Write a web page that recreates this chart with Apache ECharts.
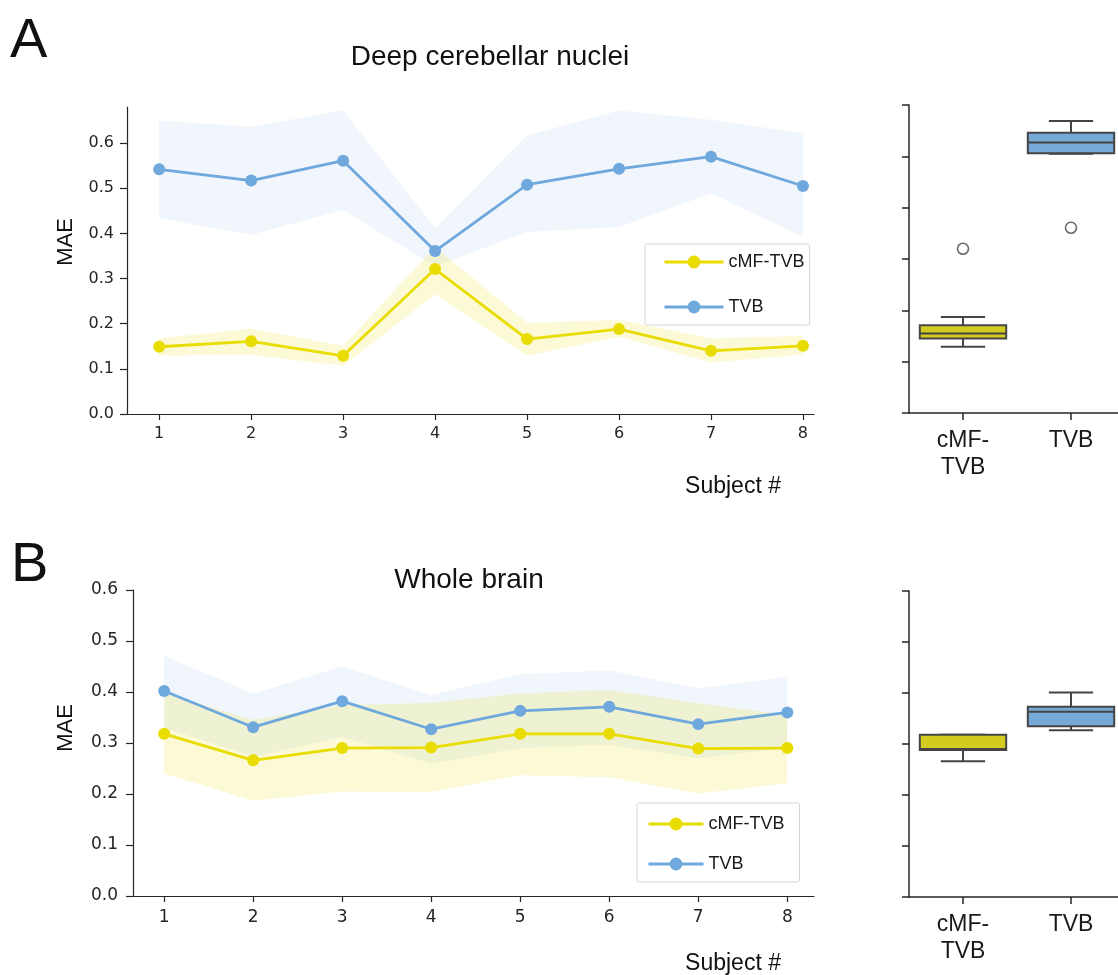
<!DOCTYPE html>
<html><head><meta charset="utf-8">
<script src="https://cdn.jsdelivr.net/npm/echarts@6/dist/echarts.min.js"></script>
<style>html,body{margin:0;padding:0;background:#fff}#c{width:1118px;height:975px}</style>
</head><body><div id="c"></div>
<script>
// ---------- data ----------
const subjects = [1, 2, 3, 4, 5, 6, 7, 8];
const yTicks = [0, 0.1, 0.2, 0.3, 0.4, 0.5, 0.6];
const seriesNames = ['cMF-TVB', 'TVB'];

// Panel A: Deep cerebellar nuclei
const dcnCmfMean  = [0.149, 0.161, 0.129, 0.321, 0.166, 0.188, 0.140, 0.151];
const dcnCmfUpper = [0.168, 0.189, 0.151, 0.370, 0.202, 0.208, 0.168, 0.173];
const dcnCmfLower = [0.129, 0.131, 0.107, 0.265, 0.129, 0.171, 0.114, 0.131];
const dcnTvbMean  = [0.542, 0.517, 0.561, 0.361, 0.508, 0.543, 0.570, 0.505];
const dcnTvbUpper = [0.650, 0.636, 0.672, 0.412, 0.617, 0.672, 0.652, 0.622];
const dcnTvbLower = [0.434, 0.397, 0.452, 0.327, 0.403, 0.414, 0.489, 0.392];

// Panel B: Whole brain
const wbCmfMean  = [0.318, 0.266, 0.290, 0.291, 0.318, 0.318, 0.289, 0.290];
const wbCmfUpper = [0.398, 0.345, 0.374, 0.379, 0.397, 0.404, 0.378, 0.355];
const wbCmfLower = [0.240, 0.187, 0.205, 0.204, 0.237, 0.233, 0.201, 0.221];
const wbTvbMean  = [0.402, 0.331, 0.382, 0.327, 0.363, 0.371, 0.337, 0.360];
const wbTvbUpper = [0.471, 0.397, 0.450, 0.394, 0.435, 0.442, 0.407, 0.430];
const wbTvbLower = [0.330, 0.273, 0.312, 0.260, 0.290, 0.296, 0.270, 0.290];

// Box plots: [lower whisker, Q1, median, Q3, upper whisker]
const boxCategories = ['cMF-\nTVB', 'TVB'];
const dcnBoxCmf = [0.129, 0.145, 0.155, 0.171, 0.187];
const dcnBoxTvb = [0.505, 0.506, 0.527, 0.546, 0.569];
const dcnOutlierCats = [0, 1];
const dcnOutlierVals = [0.320, 0.361];
const wbBoxCmf = [0.266, 0.288, 0.290, 0.318, 0.318];
const wbBoxTvb = [0.327, 0.335, 0.363, 0.373, 0.401];

// ---------- styling ----------
const YEL = '#e8dc00', BLUE = '#6fa8dc';
const YEL_BAND = 'rgba(235,221,0,0.16)', BLUE_BAND = 'rgba(111,168,220,0.10)';
const BOX_FILL = ['#d4cb21', '#76a9d5'];
const AX = '#262626';
const SANS = 'Liberation Sans, Arial, sans-serif';
const TICKF = 'DejaVu Sans, sans-serif';

const chart = echarts.init(document.getElementById('c'), null, {renderer: 'canvas'});

function bandSeries(xi, upper, lower, color) {
  return {
    type: 'custom', xAxisIndex: xi, yAxisIndex: xi, silent: true, z: 1,
    data: subjects.map((s, i) => [s, upper[i], lower[i]]),
    encode: {x: 0, y: [1, 2]},
    renderItem: (params, api) => {
      if (params.dataIndex !== 0) return null;
      const pts = [];
      for (let i = 0; i < subjects.length; i++) pts.push(api.coord([subjects[i], upper[i]]));
      for (let i = subjects.length - 1; i >= 0; i--) pts.push(api.coord([subjects[i], lower[i]]));
      return {type: 'polygon', shape: {points: pts}, style: {fill: color}};
    }
  };
}
function lineSeries(xi, name, vals, color) {
  return {
    type: 'line', name: name, xAxisIndex: xi, yAxisIndex: xi, z: 3,
    data: subjects.map((s, i) => [s, vals[i]]),
    symbol: 'circle', symbolSize: 12, showSymbol: true,
    lineStyle: {width: 2.8, color: color}, itemStyle: {color: color},
    emphasis: {disabled: true}
  };
}
function boxSeries(xi, stats) {
  return {
    type: 'custom', xAxisIndex: xi, yAxisIndex: xi, z: 3, silent: true,
    data: stats.map((s, i) => [i].concat(s)),
    encode: {x: 0, y: [1, 2, 3, 4, 5]},
    renderItem: (params, api) => {
      const c = api.value(0);
      const v = [1, 2, 3, 4, 5].map(k => api.value(k));
      const band = api.size([1, 0])[0];
      const hw = band * 0.4, cw = band * 0.205;
      const x = api.coord([c, v[0]])[0];
      const y = v.map(val => api.coord([c, val])[1]);
      const st = {stroke: '#454545', lineWidth: 2, fill: null};
      return {type: 'group', children: [
        {type: 'line', shape: {x1: x, y1: y[0], x2: x, y2: y[1]}, style: st},
        {type: 'line', shape: {x1: x, y1: y[3], x2: x, y2: y[4]}, style: st},
        {type: 'line', shape: {x1: x - cw, y1: y[0], x2: x + cw, y2: y[0]}, style: st},
        {type: 'line', shape: {x1: x - cw, y1: y[4], x2: x + cw, y2: y[4]}, style: st},
        {type: 'rect', shape: {x: x - hw, y: y[3], width: 2 * hw, height: y[1] - y[3]},
          style: {fill: BOX_FILL[params.dataIndex], stroke: '#454545', lineWidth: 2}},
        {type: 'line', shape: {x1: x - hw, y1: y[2], x2: x + hw, y2: y[2]}, style: st}
      ]};
    }
  };
}

function lineX(gi, max, fs, margin) {
  return {
    type: 'value', gridIndex: gi, min: 0.65, max: max,
    axisLine: {show: true, onZero: false, lineStyle: {color: AX, width: 1.2}},
    axisTick: {show: true, length: 6, customValues: subjects, lineStyle: {color: AX, width: 1.2}},
    axisLabel: {customValues: subjects, fontFamily: TICKF, fontSize: fs, color: AX, margin: margin},
    splitLine: {show: false}
  };
}
function lineY(gi, max, fs, margin) {
  return {
    type: 'value', gridIndex: gi, min: 0, max: max,
    axisLine: {show: true, lineStyle: {color: AX, width: 1.2}},
    axisTick: {show: true, length: 7, customValues: yTicks, lineStyle: {color: AX, width: 1.2}},
    axisLabel: {customValues: yTicks, formatter: v => Number(v).toFixed(1),
      fontFamily: TICKF, fontSize: fs, color: AX, margin: margin},
    splitLine: {show: false}
  };
}
function boxX(gi) {
  return {
    type: 'category', gridIndex: gi, data: boxCategories, boundaryGap: true,
    axisLine: {show: true, lineStyle: {color: AX, width: 1.5}},
    axisTick: {show: true, alignWithLabel: true, length: 7, lineStyle: {color: AX, width: 1.5}},
    axisLabel: {fontFamily: SANS, fontSize: 23, lineHeight: 27, color: '#1a1a1a', margin: 14, interval: 0},
    splitLine: {show: false}
  };
}
function boxY(gi) {
  return {
    type: 'value', gridIndex: gi, min: 0, max: 0.6, interval: 0.1,
    axisLine: {show: true, lineStyle: {color: AX, width: 1.5}},
    axisTick: {show: true, length: 7, lineStyle: {color: AX, width: 1.5}},
    axisLabel: {show: false}, splitLine: {show: false}
  };
}
function legendAt(left, top, padding, itemWidth, gap) {
  return {
    data: seriesNames, orient: 'vertical', left: left, top: top,
    padding: padding, itemWidth: itemWidth, itemHeight: 16, itemGap: gap,
    backgroundColor: 'rgba(255,255,255,0.85)', borderColor: '#d6d6d6', borderWidth: 1, borderRadius: 2,
    lineStyle: {width: 3},
    textStyle: {fontFamily: SANS, fontSize: 18, color: '#1a1a1a', padding: [0, 0, 0, 0]},
    selectedMode: false
  };
}
function txt(x, y, s, size, align, rot) {
  return {type: 'text', x: x, y: y, rotation: rot || 0,
    style: {text: s, font: size + 'px ' + SANS, fill: '#111', textAlign: align || 'center', textVerticalAlign: 'middle'}};
}

const option = {
  backgroundColor: '#fff',
  animation: false,
  grid: [
    {left: 127, top: 107, width: 687, height: 307, outerBoundsMode: 'none'},
    {left: 133, top: 590, width: 681, height: 306, outerBoundsMode: 'none'},
    {left: 909, top: 105, width: 216, height: 308, outerBoundsMode: 'none'},
    {left: 909, top: 591, width: 216, height: 306, outerBoundsMode: 'none'}
  ],
  xAxis: [lineX(0, 8.12, 16, 12), lineX(1, 8.3, 17, 13), boxX(2), boxX(3)],
  yAxis: [lineY(0, 0.68, 16, 13), lineY(1, 0.6, 17, 15), boxY(2), boxY(3)],
  legend: [
    legendAt(645, 244, [9, 5, 9, 18], 59, 27),
    legendAt(637, 803, [12, 15, 9, 10], 55, 22)
  ],
  graphic: [
    txt(10, 42, 'A', 56, 'left'),
    txt(11, 566, 'B', 56, 'left'),
    txt(490, 57, 'Deep cerebellar nuclei', 28),
    txt(469, 580, 'Whole brain', 28),
    txt(733, 487, 'Subject #', 23),
    txt(733, 964, 'Subject #', 23),
    txt(66, 242, 'MAE', 22, 'center', Math.PI / 2),
    txt(66, 728, 'MAE', 22, 'center', Math.PI / 2)
  ],
  series: [
    bandSeries(0, dcnTvbUpper, dcnTvbLower, BLUE_BAND),
    bandSeries(0, dcnCmfUpper, dcnCmfLower, YEL_BAND),
    lineSeries(0, 'cMF-TVB', dcnCmfMean, YEL),
    lineSeries(0, 'TVB', dcnTvbMean, BLUE),
    bandSeries(1, wbTvbUpper, wbTvbLower, BLUE_BAND),
    bandSeries(1, wbCmfUpper, wbCmfLower, YEL_BAND),
    lineSeries(1, 'cMF-TVB', wbCmfMean, YEL),
    lineSeries(1, 'TVB', wbTvbMean, BLUE),
    boxSeries(2, [dcnBoxCmf, dcnBoxTvb]),
    {
      type: 'scatter', xAxisIndex: 2, yAxisIndex: 2, z: 4, silent: true,
      data: dcnOutlierCats.map((c, i) => [c, dcnOutlierVals[i]]),
      symbol: 'circle', symbolSize: 11,
      itemStyle: {color: '#fff', borderColor: '#454545', borderWidth: 1.6}
    },
    boxSeries(3, [wbBoxCmf, wbBoxTvb])
  ]
};
chart.setOption(option);
</script>
</body></html>
